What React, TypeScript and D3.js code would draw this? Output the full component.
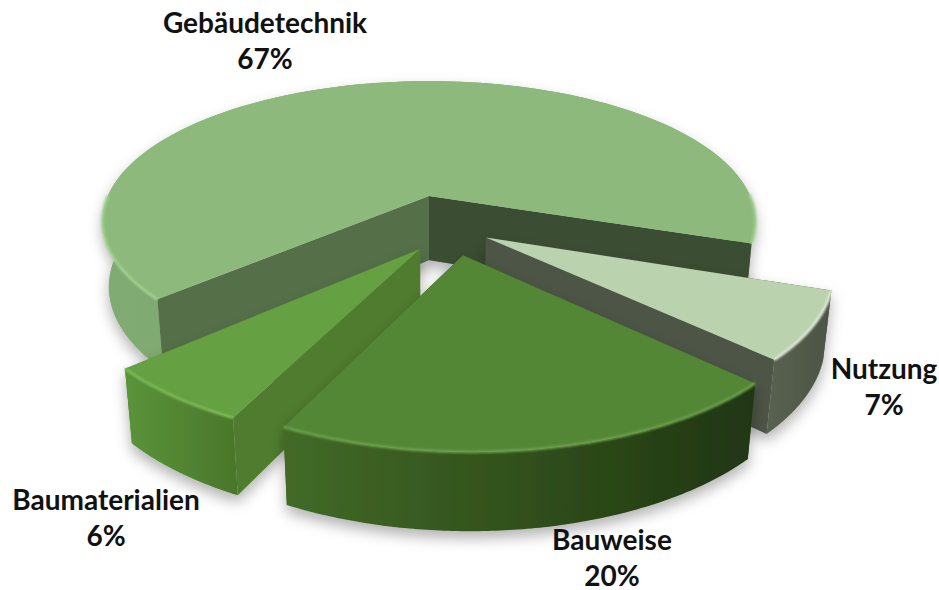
import * as d3 from "d3";

const categories = ["Gebäudetechnik", "Nutzung", "Bauweise", "Baumaterialien"];
const shares = [67, 7, 20, 6];

// how far each slice is pulled out of the pie (pie radius = 1)
const pullX = [0, 0.168, 0.098, -0.026];
const pullY = [0, 0.29, 0.405, 0.365];

const topColors = ["#8DBA7C", "#BAD3AE", "#528734", "#65A042"];
const rimColors = ["#A3D392", "#E6EEE0", "#6FA450", "#80BE59"];
const wallColors = [
  ["#80AB72", "#74A067"],
  ["#596250", "#4C5444"],
  ["#426A27", "#203611"],
  ["#5B943A", "#4A762B"],
];
// cut faces: [at slice start, at slice end]
const faceColors = [
  ["#54704A", "#3A4E30"],
  ["#4D5547", "#4D5547"],
  ["#3A5A22", "#3A5A22"],
  ["#4F7C2E", "#4F7C2E"],
];
const labelPos = [
  { x: 265, y: 33 },
  { x: 884, y: 379 },
  { x: 612, y: 550 },
  { x: 106, y: 510 },
];
const drawOrder = [0, 1, 3, 2];

const width = 939;
const height = 590;

const tilt = (25 * Math.PI) / 180;
const camDist = 5;
const focal = 1606;
const cx = 429;
const cy = 196;
const thick = 0.225;

const project = (x: number, y: number, z: number): [number, number] => {
  const v = y * Math.sin(tilt) - z * Math.cos(tilt);
  const d = camDist - y * Math.cos(tilt) - z * Math.sin(tilt);
  return [cx + (focal * x) / d, cy + (focal * v) / d];
};

const startAngle = ((138 + 90) * Math.PI) / 180;
const arcs = d3
  .pie<number>()
  .sort(null)
  .startAngle(startAngle)
  .endAngle(startAngle + 2 * Math.PI)(shares);

const line = d3.line();

const rimAngles = (a0: number, a1: number) => {
  const t = d3.scaleLinear().domain([0, 120]).range([a0, a1]);
  return d3.range(121).map((i) => t(i) - Math.PI / 2);
};

function slicePaths(i: number) {
  const ox = pullX[i];
  const oy = pullY[i];
  const angles = rimAngles(arcs[i].startAngle, arcs[i].endAngle);
  const rim = (z: number) =>
    angles.map((a) => project(ox + Math.cos(a), oy + Math.sin(a), z));
  const apex = (z: number) => project(ox, oy, z);
  const upper = rim(0);
  const lower = rim(-thick);
  const face = (k: number) =>
    line([apex(0), upper[k], lower[k], apex(-thick)]) + "Z";
  // the light bevel only shows on the side turned to the viewer
  const frontRim = d3
    .line()
    .defined((_, k) => Math.sin(angles[k]) > -0.03);
  return {
    top: line([apex(0), ...upper]) + "Z",
    wall: line([...upper, ...lower.slice().reverse()]) + "Z",
    rim: frontRim(upper) as string,
    faceStart: face(0),
    faceEnd: face(upper.length - 1),
    // a slice wider than a half circle shows its cut faces in front of its wall
    reflex: arcs[i].endAngle - arcs[i].startAngle > Math.PI,
  };
}

export default function App() {
  return (
    <svg
      width={width}
      height={height}
      viewBox={`0 0 ${width} ${height}`}
      style={{ position: "fixed", left: 0, top: 0, background: "#fff" }}
    >
      <defs>
        <filter id="shadow" x="-20%" y="-20%" width="140%" height="150%">
          <feDropShadow dx="0" dy="7" stdDeviation="7" floodColor="#000" floodOpacity="0.3" />
        </filter>
        <filter id="soft" x="-5%" y="-5%" width="110%" height="110%">
          <feGaussianBlur stdDeviation="0.9" />
        </filter>
        {wallColors.map((c, i) => (
          <linearGradient key={i} id={`wall${i}`} x1="0" x2="1" y1="0" y2="0">
            <stop offset="0" stopColor={c[0]} />
            <stop offset="1" stopColor={c[1]} />
          </linearGradient>
        ))}
      </defs>
      {drawOrder.map((i) => {
        const p = slicePaths(i);
        const wall = <path d={p.wall} fill={`url(#wall${i})`} />;
        return (
          <g key={i}>
            <g filter="url(#shadow)">
              {p.reflex && wall}
              <path d={p.faceStart} fill={faceColors[i][0]} />
              <path d={p.faceEnd} fill={faceColors[i][1]} />
              {!p.reflex && wall}
              <path d={p.top} fill={topColors[i]} />
            </g>
            <path
              d={p.rim}
              fill="none"
              stroke={rimColors[i]}
              strokeWidth={2.5}
              filter="url(#soft)"
            />
          </g>
        );
      })}
      {categories.map((name, i) => (
        <text
          key={name}
          textAnchor="middle"
          fontFamily="Lato, 'Open Sans', sans-serif"
          fontWeight={700}
          fontSize={28}
          fill="#111"
        >
          <tspan x={labelPos[i].x} y={labelPos[i].y}>
            {name}
          </tspan>
          <tspan x={labelPos[i].x} y={labelPos[i].y + 36}>
            {shares[i]}%
          </tspan>
        </text>
      ))}
    </svg>
  );
}
